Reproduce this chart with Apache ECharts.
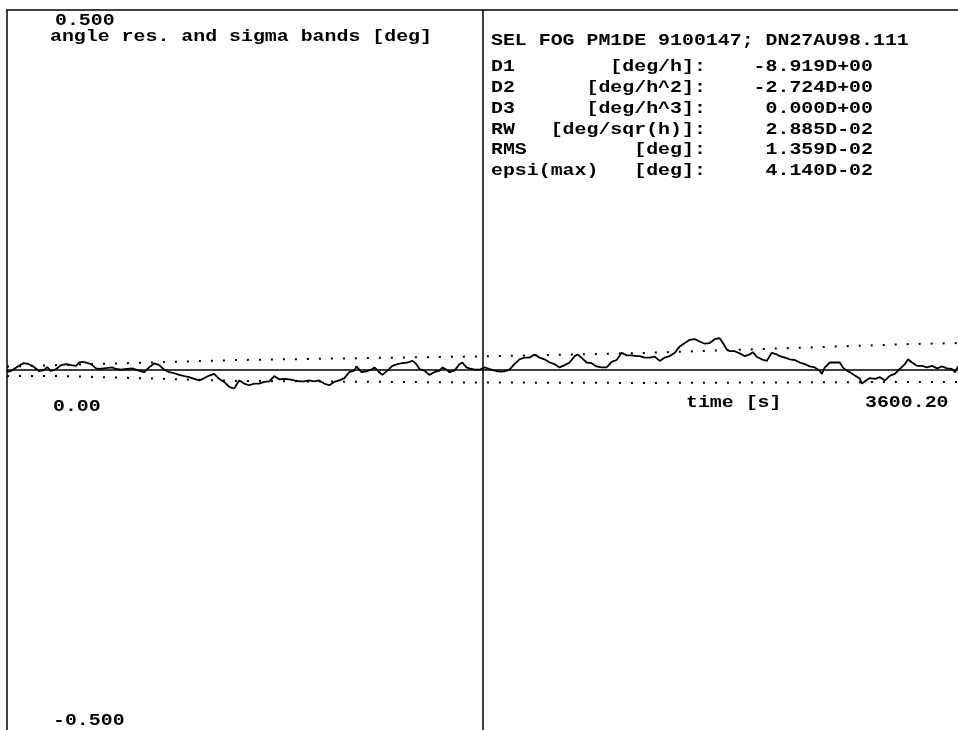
<!DOCTYPE html>
<html><head><meta charset="utf-8">
<script src="https://cdn.jsdelivr.net/npm/echarts@6/dist/echarts.min.js"></script>
<style>html,body{margin:0;padding:0;background:#fff}#c{width:958px;height:730px}</style>
</head><body><div id="c"></div>
<script>
// time [s]
const timeS = [0,15,45,64,83,102,121,140,152,167,186,205,224,243,261,273,284,299,318,337,349,375,398,413,432,451,474,500,519,538,557,576,595,614,633,652,671,690,709,728,747,766,784,803,822,841,860,879,898,917,936,955,974,993,1012,1031,1050,1069,1088,1107,1126,1144,1163,1182,1201,1220,1239,1258,1277,1296,1315,1323,1342,1360,1379,1391,1410,1421,1440,1459,1478,1497,1516,1535,1550,1561,1580,1599,1618,1637,1649,1664,1675,1694,1713,1724,1739,1751,1770,1789,1808,1827,1846,1865,1883,1902,1921,1940,1959,1978,1997,2016,2035,2054,2073,2092,2111,2130,2149,2160,2175,2194,2213,2232,2251,2270,2289,2308,2327,2346,2365,2384,2395,2414,2433,2452,2471,2490,2509,2528,2547,2566,2585,2604,2622,2641,2660,2679,2698,2710,2725,2736,2755,2774,2793,2812,2823,2838,2857,2876,2895,2914,2926,2945,2964,2982,3001,3020,3039,3058,3077,3085,3096,3115,3134,3153,3164,3180,3191,3210,3229,3236,3252,3267,3286,3305,3324,3343,3361,3380,3399,3411,3426,3445,3464,3483,3502,3521,3540,3559,3577,3589,3600.2];
// angle residual [deg]
const residualDeg = [-0.0027,-0.0014,0.0058,0.0095,0.0081,0.0041,-0.0014,0,0.0041,-0.0014,0.0014,0.0068,0.0081,0.0068,0.0058,0.0104,0.0112,0.0104,0.0081,0.0023,0.0014,0.0027,0.0036,0.0014,0.0004,0.0014,0.0023,-0.0009,-0.0031,0.0036,0.0091,0.0068,0.0004,-0.0031,-0.0045,-0.0068,-0.0085,-0.0099,-0.0122,-0.0145,-0.0112,-0.0077,-0.0054,-0.0122,-0.0166,-0.0234,-0.0257,-0.0145,-0.0189,-0.0212,-0.0189,-0.0189,-0.0166,-0.0158,-0.0085,-0.0131,-0.0122,-0.0131,-0.0145,-0.0158,-0.0158,-0.0145,-0.0158,-0.0145,-0.0189,-0.0212,-0.0166,-0.0145,-0.0112,-0.0031,-0.0009,0.0050,-0.0031,-0.0018,0.0004,0.0036,-0.0031,-0.0068,-0.0009,0.0058,0.0081,0.0095,0.0104,0.0126,0.0081,0.0014,-0.0009,-0.0068,-0.0031,-0.0009,0.0036,0.0004,-0.0031,-0.0009,0.0081,0.0104,0.0036,0.0023,0.0004,0.0004,0.0036,0.0014,-0.0009,-0.0023,-0.0018,0.0004,0.0081,0.0149,0.0172,0.0172,0.0216,0.0172,0.0149,0.0104,0.0081,0.0036,0.0068,0.0104,0.0193,0.0216,0.0172,0.0104,0.0095,0.0050,0.0036,0.0036,0.0112,0.0139,0.0239,0.0203,0.0203,0.0193,0.0193,0.0172,0.0172,0.0185,0.0126,0.0172,0.0193,0.0239,0.0328,0.0374,0.0419,0.0428,0.0396,0.0365,0.0374,0.0428,0.0442,0.0374,0.0284,0.0261,0.0261,0.0230,0.0193,0.0216,0.0247,0.0185,0.0149,0.0126,0.0239,0.0216,0.0193,0.0172,0.0149,0.0139,0.0104,0.0081,0.0050,0.0036,-0.0009,-0.0054,0.0036,0.0104,0.0104,0.0104,0.0036,-0.0009,-0.0031,-0.0077,-0.0122,-0.0189,-0.0145,-0.0112,-0.0122,-0.0099,-0.0145,-0.0077,-0.0054,0.0014,0.0081,0.0149,0.0104,0.0058,0.0058,0.0036,0.0058,0.0023,0.0050,0.0023,0.0014,-0.0031,0.0050];
// sigma bands [deg]
const bandTimes = [0,197,879,1751,2395,3418,3600.2];
const upperBand = [0.0048,0.0069,0.0139,0.0187,0.0235,0.0360,0.0374];
const lowerBand = [-0.0083,-0.0083,-0.0152,-0.0173,-0.0180,-0.0166,-0.0166];
const midTime = 1800.1;
// texts
const yRangeLabels = ['0.500','-0.500'];
const xRangeLabels = ['0.00','3600.20'];
const xAxisTitle = 'time [s]';
const yAxisTitle = 'angle res. and sigma bands [deg]';
const infoTitle = 'SEL FOG PM1DE 9100147; DN27AU98.111';
const infoNames = ['D1','D2','D3','RW','RMS','epsi(max)'];
const infoUnits = ['[deg/h]:','[deg/h^2]:','[deg/h^3]:','[deg/sqr(h)]:','[deg]:','[deg]:'];
const infoValues = ['-8.919D+00','-2.724D+00','0.000D+00','2.885D-02','1.359D-02','4.140D-02'];

const FONT = 'bold 17px "Liberation Mono", "DejaVu Sans Mono", monospace';
const SX = 1.17;
function txt(text, x, y, align) {
  return { type: 'text', x: x, y: y, scaleX: SX, z: 10,
    style: { text: text, font: FONT, fill: '#000', align: align || 'left', verticalAlign: 'middle' } };
}
const infoLines = infoNames.map((n, i) =>
  n.padEnd(18 - infoUnits[i].length) + infoUnits[i] + infoValues[i].padStart(14));

const graphics = [
  txt(yRangeLabels[0], 55, 21),
  txt(yAxisTitle, 50, 37),
  txt(yRangeLabels[1], 53, 721),
  txt(xRangeLabels[0], 53, 407),
  txt(xAxisTitle, 686, 403),
  txt(xRangeLabels[1], 865, 403),
  txt(infoTitle, 491, 41)
];
infoLines.forEach((l, i) => graphics.push(txt(l, 491, 67 + i * 20.8)));

const axisCommon = { axisTick: { show: false }, axisLabel: { show: false }, splitLine: { show: false } };
const chart = echarts.init(document.getElementById('c'), null, { renderer: 'canvas' });
chart.setOption({
  animation: false,
  backgroundColor: '#fff',
  grid: { left: 7, top: 10, width: 951, height: 722, show: false },
  xAxis: [
    Object.assign({ type: 'value', min: 0, max: 3600.2, interval: 1800.1,
      axisLine: { show: true, onZero: true, lineStyle: { color: '#000', width: 1.5 } } }, axisCommon),
    Object.assign({ type: 'value', min: 0, max: 3600.2, interval: 1800.1, position: 'top',
      axisLine: { show: true, onZero: false, lineStyle: { color: '#000', width: 1.5 } } }, axisCommon)
  ],
  yAxis: Object.assign({ type: 'value', min: -0.5, max: 0.5, interval: 0.5,
    axisLine: { show: true, onZero: false, lineStyle: { color: '#000', width: 1.5 } } }, axisCommon),
  series: [
    { type: 'line', data: bandTimes.map((t, i) => [t, upperBand[i]]), showSymbol: false, silent: true,
      lineStyle: { color: '#000', width: 2, type: [2, 10] }, z: 2 },
    { type: 'line', data: bandTimes.map((t, i) => [t, lowerBand[i]]), showSymbol: false, silent: true,
      lineStyle: { color: '#000', width: 2, type: [2, 10] }, z: 2 },
    { type: 'line', data: timeS.map((t, i) => [t, residualDeg[i]]), showSymbol: false, silent: true,
      lineStyle: { color: '#000', width: 1.8 }, z: 3,
      markLine: { silent: true, symbol: 'none', label: { show: false },
        lineStyle: { color: '#000', width: 1.5, type: 'solid' },
        data: [{ xAxis: midTime }] } }
  ],
  graphic: graphics
});
</script></body></html>
